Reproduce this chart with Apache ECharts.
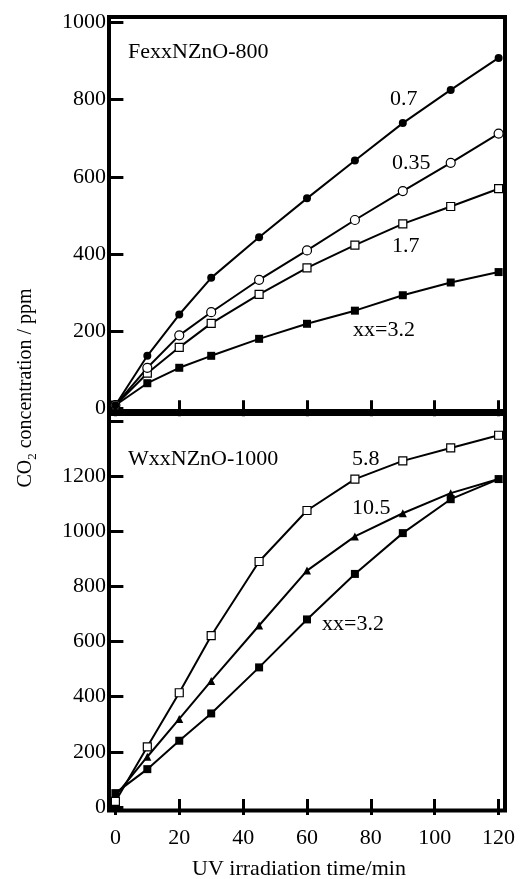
<!DOCTYPE html>
<html>
<head>
<meta charset="utf-8">
<script src="https://cdn.jsdelivr.net/npm/echarts@6/dist/echarts.min.js"></script>
<style>
html,body{margin:0;padding:0;background:#fff;}
#c{width:522px;height:879px;}
</style>
</head>
<body>
<div id="c"></div>
<script>
// ---- data ----
var time = [0, 10, 20, 30, 45, 60, 75, 90, 105, 120];
// Top panel: FexxNZnO-800
var fe07  = [8, 136, 243, 338, 443, 544, 642, 739, 825, 908];
var fe035 = [8, 105, 189, 249, 333, 409, 488, 563, 636, 712];
var fe17  = [8, 91, 158, 220, 295, 364, 423, 478, 523, 569];
var fe32  = [8, 65, 105, 136, 180, 219, 253, 293, 326, 353];
// Bottom panel: WxxNZnO-1000
var w58  = [20, 218, 414, 621, 890, 1075, 1189, 1255, 1302, 1348];
var w105 = [40, 182, 319, 457, 658, 857, 981, 1065, 1138, 1189];
var w32  = [50, 137, 240, 339, 506, 680, 845, 993, 1116, 1189];
// tick values
var xTicks = [0, 20, 40, 60, 80, 100, 120];
var topYTicks = [0, 200, 400, 600, 800, 1000];
var botYTicks = [0, 200, 400, 600, 800, 1000, 1200, 1400];
var botYLabels = [0, 200, 400, 600, 800, 1000, 1200];

var FONT = '"Liberation Serif", "Times New Roman", serif';

function pairs(ys) { return time.map(function (t, i) { return [t, ys[i]]; }); }
function plain(v) { return String(v); }

function xAx(grid, pos, labels) {
  return {
    type: 'value', gridIndex: grid, position: pos, min: -2, max: 122,
    axisLine: { show: false },
    splitLine: { show: false },
    axisTick: { show: true, inside: true, length: 8, customValues: xTicks,
      lineStyle: { color: '#000', width: 3 } },
    axisLabel: { show: !!labels, customValues: xTicks, margin: 17, formatter: plain,
      fontFamily: FONT, fontSize: 22, color: '#000' }
  };
}
function yAx(grid, pos, min, max, ticks, labels) {
  return {
    type: 'value', gridIndex: grid, position: pos, min: min, max: max,
    axisLine: { show: false },
    splitLine: { show: false },
    axisTick: { show: true, inside: true, length: 8, customValues: ticks,
      lineStyle: { color: '#000', width: 3 } },
    axisLabel: { show: !!labels, customValues: labels || ticks, margin: 3, formatter: plain,
      fontFamily: FONT, fontSize: 22, color: '#000' }
  };
}

function ser(name, ys, xi, yi, symbol, filled, size) {
  return {
    name: name, type: 'line', xAxisIndex: xi, yAxisIndex: yi,
    data: pairs(ys), symbol: symbol, symbolSize: size,
    showSymbol: true, animation: false,
    lineStyle: { color: '#000', width: 2 },
    itemStyle: { color: filled ? '#000' : '#fff', borderColor: '#000', borderWidth: filled ? 0 : 1.2 },
    z: 3
  };
}

function txt(s, x, y, extra) {
  var st = { text: s, x: 0, y: 0, font: '22px ' + FONT, fill: '#000',
    align: 'left', verticalAlign: 'middle' };
  if (extra) for (var k in extra) st[k] = extra[k];
  return { type: 'text', x: x, y: y, style: st, z: 10 };
}

var chart = echarts.init(document.getElementById('c'), null, { renderer: 'canvas' });
chart.setOption({
  animation: false,
  backgroundColor: '#fff',
  grid: [
    { left: 109, right: 17, top: 17, height: 394, show: true, borderColor: '#000', borderWidth: 4, backgroundColor: 'transparent' },
    { left: 109, right: 17, top: 414, height: 396.5, show: true, borderColor: '#000', borderWidth: 4, backgroundColor: 'transparent' }
  ],
  xAxis: [
    xAx(0, 'bottom', false),
    xAx(0, 'top', false),
    xAx(1, 'bottom', true),
    xAx(1, 'top', false)
  ],
  yAxis: [
    yAx(0, 'left', -7, 1014, topYTicks, topYTicks),
    yAx(0, 'right', -7, 1014, topYTicks, null),
    yAx(1, 'left', -13, 1425, botYTicks, botYLabels),
    yAx(1, 'right', -13, 1425, botYTicks, null)
  ],
  series: [
    ser('xx=3.2', fe32, 0, 0, 'rect', true, 8),
    ser('1.7', fe17, 0, 0, 'rect', false, 8),
    ser('0.35', fe035, 0, 0, 'circle', false, 9),
    ser('0.7', fe07, 0, 0, 'circle', true, 8),
    ser('xx=3.2 W', w32, 2, 2, 'rect', true, 8),
    ser('10.5', w105, 2, 2, 'triangle', true, 8),
    ser('5.8', w58, 2, 2, 'rect', false, 8)
  ],
  graphic: [
    txt('FexxNZnO-800', 128, 52),
    txt('0.7', 390, 99),
    txt('0.35', 392, 163),
    txt('1.7', 392, 246),
    txt('xx=3.2', 353, 330),
    txt('WxxNZnO-1000', 128, 459),
    txt('5.8', 352, 459),
    txt('10.5', 352, 508),
    txt('xx=3.2', 322, 624),
    txt('UV irradiation time/min', 299, 869, { align: 'center' }),
    {
      type: 'text', x: 26, y: 388, rotation: Math.PI / 2, z: 10,
      style: {
        text: '{a|CO}{b|2}{a| concentration / ppm}',
        align: 'center', verticalAlign: 'middle',
        rich: {
          a: { fontFamily: FONT, fontSize: 20, fill: '#000', lineHeight: 26, verticalAlign: 'middle' },
          b: { fontFamily: FONT, fontSize: 13, fill: '#000', lineHeight: 26, verticalAlign: 'bottom' }
        }
      }
    }
  ]
});
</script>
</body>
</html>
